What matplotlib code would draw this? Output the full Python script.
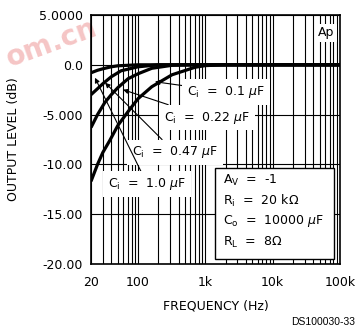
import matplotlib
matplotlib.use('Agg')
import matplotlib.pyplot as plt
from matplotlib.ticker import FixedLocator, NullFormatter
from matplotlib.patches import Rectangle

# Curves (frequency in Hz, level in dB)
c01_freq = [20, 25, 30, 38, 50, 71, 100, 160, 320, 700, 1000, 2000, 100000]
c01_db = [-11.7, -10.0, -8.8, -7.6, -6.1, -4.7, -3.4, -2.2, -1.0, -0.25, -0.08, 0.0, 0.0]

c022_freq = [20, 25, 32, 40, 50, 71, 100, 160, 320, 600, 100000]
c022_db = [-6.3, -5.0, -3.8, -3.0, -2.3, -1.4, -0.9, -0.35, -0.05, 0.0, 0.0]

c047_freq = [20, 25, 30, 40, 56, 100, 200, 100000]
c047_db = [-3.0, -2.4, -1.9, -1.2, -0.6, -0.2, 0.0, 0.0]

c10_freq = [20, 25, 30, 40, 50, 100, 100000]
c10_db = [-0.8, -0.55, -0.4, -0.2, -0.1, 0.0, 0.0]

x_ticks = [20, 100, 1000, 10000, 100000]
x_labels = ['20', '100', '1k', '10k', '100k']
y_ticks = [5, 0, -5, -10, -15, -20]
y_labels = ['5.0000', '0.0', '-5.000', '-10.00', '-15.00', '-20.00']

box_lines = [r'A$_\mathregular{V}$  =  -1',
             r'R$_\mathregular{i}$  =  20 k$\Omega$',
             r'C$_\mathregular{o}$  =  10000 $\mu$F',
             r'R$_\mathregular{L}$  =  8$\Omega$']

plt.rcParams['font.family'] = ['DejaVu Sans']
plt.rcParams['font.size'] = 9

fig = plt.figure(figsize=(3.58, 3.31), dpi=100)
ax = fig.add_axes([91/358, 1 - 264/331, 249/358, 249/331])
ax.set_facecolor('none')

# faint watermark from the scanned page
fig.text(0.005, 0.80, 'om.cn', color='#ec8c8c', alpha=0.5, fontsize=20,
         fontweight='bold', rotation=20, zorder=-5)

for f, d in [(c01_freq, c01_db), (c022_freq, c022_db),
             (c047_freq, c047_db), (c10_freq, c10_db)]:
    ax.plot(f, d, color='black', lw=2.3, solid_capstyle='butt', zorder=4)

ax.set_xscale('log')
ax.set_xlim(20, 100000)
ax.set_ylim(-20, 5)
ax.xaxis.set_major_locator(FixedLocator(x_ticks))
ax.set_xticklabels(x_labels)
ax.xaxis.set_minor_formatter(NullFormatter())
ax.set_yticks(y_ticks)
ax.set_yticklabels(y_labels)
ax.tick_params(which='both', length=0)
ax.tick_params(axis='x', pad=9)
ax.tick_params(axis='y', pad=6)
ax.grid(which='both', color='black', lw=0.8, zorder=1)
ax.set_axisbelow(True)
for s in ax.spines.values():
    s.set_linewidth(1.2)

ax.set_xlabel('FREQUENCY (Hz)')
ax.xaxis.set_label_coords(0.502, -0.142)
ax.set_ylabel('OUTPUT LEVEL (dB)')
ax.yaxis.set_label_coords(-0.285, 0.5)

# capacitor labels with arrows
wb = dict(facecolor='white', edgecolor='none', pad=3.5)
ap = dict(arrowstyle='-|>', color='black', lw=0.8, mutation_scale=7, shrinkA=0, shrinkB=0)
ax.annotate(r'C$_\mathregular{i}$  =  0.1 $\mu$F', xy=(178, -1.7), xytext=(535, -2.7),
            va='center', ha='left', bbox=wb, arrowprops=ap, zorder=5)
ax.annotate(r'C$_\mathregular{i}$  =  0.22 $\mu$F', xy=(60, -2.5), xytext=(244, -5.3),
            va='center', ha='left', bbox=wb, arrowprops=ap, zorder=5)
ax.annotate(r'C$_\mathregular{i}$  =  0.47 $\mu$F', xy=(32.4, -1.8), xytext=(81, -8.8),
            va='center', ha='left', bbox=wb, arrowprops=ap, zorder=5)
ax.annotate(r'C$_\mathregular{i}$  =  1.0 $\mu$F', xy=(22.9, -1.3), xytext=(36, -12.0),
            va='center', ha='left', bbox=wb, arrowprops=ap, zorder=5)

ax.text(0.912, 0.928, 'Ap', transform=ax.transAxes, ha='left', va='center',
        bbox=dict(facecolor='white', edgecolor='none', pad=2), zorder=5)

# conditions box
ax.add_patch(Rectangle((0.498, 0.02), 0.478, 0.366, transform=ax.transAxes,
                       facecolor='white', edgecolor='black', lw=1.0, zorder=5))
for i, t in enumerate(box_lines):
    ax.text(0.530, 0.337 - i * 0.083, t, transform=ax.transAxes,
            ha='left', va='center', zorder=6)

fig.text(355/358, 1 - 322/331, 'DS100030-33', ha='right', va='center',
         fontsize=7.5, family=['Liberation Sans'])

fig.savefig('out.png', dpi=100)
